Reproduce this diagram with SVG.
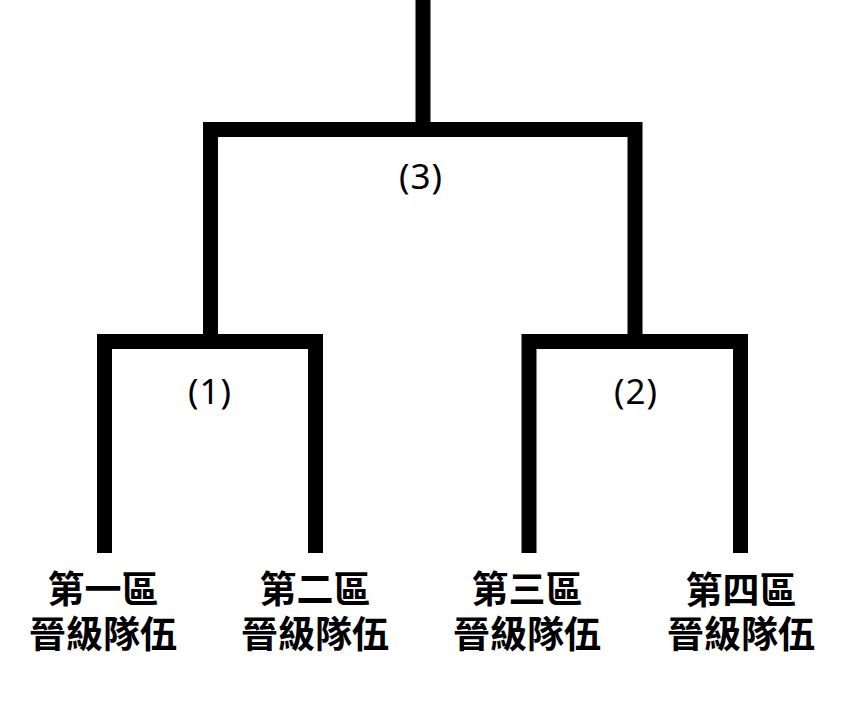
<svg xmlns="http://www.w3.org/2000/svg" width="860" height="718" viewBox="0 0 860 718">
<style>
.ln{fill:none;stroke:#000;stroke-width:15;stroke-linecap:butt;stroke-linejoin:miter}
.lbl{font-family:"Noto Sans","Open Sans",sans-serif;font-size:35px;fill:#000;text-anchor:middle;letter-spacing:1px}
.team{font-family:"Noto Sans CJK TC","Noto Sans CJK SC",sans-serif;font-size:37px;font-weight:bold;fill:#000;text-anchor:middle}
</style>
<rect width="860" height="718" fill="#fff"/>
<g id="connectors">
<path class="ln" d="M423,0 V129.5"/>
<path class="ln" d="M210.5,341.5 V129.5 H635 V341.5"/>
<path class="ln" d="M104.5,553 V341.5 H315.5 V553"/>
<path class="ln" d="M529,553 V341.5 H740.5 V553"/>
</g>
<g id="match3"><text class="lbl" x="421" y="189">(3)</text></g>
<g id="match1"><text class="lbl" x="210" y="404">(1)</text></g>
<g id="match2"><text class="lbl" x="636" y="404">(2)</text></g>
<g id="team1"><text class="team" x="103" y="603">第一區<tspan x="103" y="648">晉級隊伍</tspan></text></g>
<g id="team2"><text class="team" x="315" y="603">第二區<tspan x="315" y="648">晉級隊伍</tspan></text></g>
<g id="team3"><text class="team" x="527" y="603">第三區<tspan x="527" y="648">晉級隊伍</tspan></text></g>
<g id="team4"><text class="team" x="741" y="604">第四區<tspan x="741" y="648">晉級隊伍</tspan></text></g>
</svg>
